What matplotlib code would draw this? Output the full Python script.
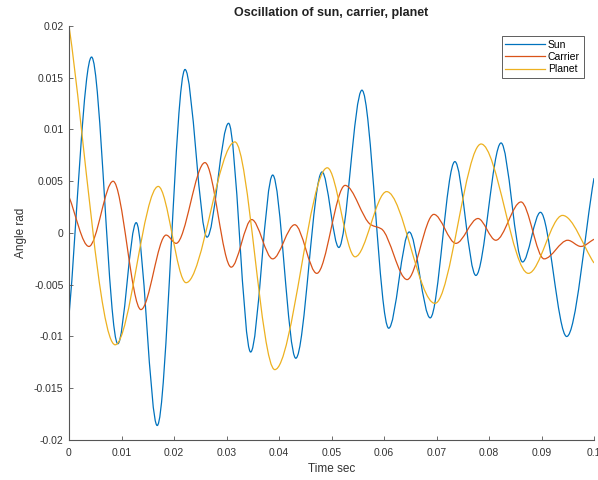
import matplotlib
matplotlib.use("Agg")
import matplotlib.pyplot as plt
from matplotlib.path import Path
from matplotlib.patches import PathPatch
from matplotlib.lines import Line2D
import numpy as np

plt.rcParams['font.family'] = ['Liberation Sans', 'DejaVu Sans']
plt.rcParams['axes.unicode_minus'] = False

# ---- data (local extrema and turning points) ----
sun_t = [0.0, 0.0043, 0.0093, 0.0128, 0.0168, 0.0221, 0.0263, 0.0304, 0.0346,
         0.0388, 0.0432, 0.0482, 0.0514, 0.0558, 0.0609, 0.0648, 0.0688,
         0.0735, 0.0775, 0.0823, 0.0864, 0.0898, 0.0948, 0.1]
sun_y = [-0.0080, 0.0170, -0.0107, 0.0010, -0.0186, 0.0158, -0.0004, 0.0106,
         -0.0115, 0.0056, -0.0121, 0.0059, -0.0014, 0.0138, -0.0092, 0.0001,
         -0.0082, 0.0069, -0.0041, 0.0087, -0.0028, 0.0020, -0.0100, 0.0053]

carrier_t = [0.0, 0.0038, 0.0084, 0.0137, 0.0185, 0.0204, 0.0259, 0.0309,
             0.0348, 0.0388, 0.0430, 0.0472, 0.0526, 0.0575, 0.0595, 0.0644,
             0.0695, 0.0737, 0.0779, 0.0813, 0.0861, 0.0905, 0.0950, 0.0975, 0.1]
carrier_y = [0.0035, -0.0013, 0.0050, -0.0074, -0.0002, -0.0010, 0.0068, -0.0033,
             0.0013, -0.0025, 0.0008, -0.0039, 0.0046, 0.0008, 0.0004, -0.0045,
             0.0018, -0.0010, 0.0014, -0.0007, 0.0030, -0.0025, -0.0007, -0.0013, -0.0006]

planet_t = [0.0, 0.0088, 0.0170, 0.0223, 0.0316, 0.0392, 0.0492, 0.0545,
            0.0605, 0.0697, 0.0785, 0.0875, 0.0940, 0.1]
planet_y = [0.0200, -0.0108, 0.0045, -0.0048, 0.0088, -0.0132, 0.0063, -0.0023,
            0.0040, -0.0068, 0.0086, -0.0039, 0.0017, -0.0029]

series_names = ['Sun', 'Carrier', 'Planet']
series_colors = ['#0072BD', '#D95319', '#EDB120']

x_ticks = [0, 0.01, 0.02, 0.03, 0.04, 0.05, 0.06, 0.07, 0.08, 0.09, 0.1]
x_ticklabels = ['0', '0.01', '0.02', '0.03', '0.04', '0.05', '0.06', '0.07', '0.08', '0.09', '0.1']
y_ticks = [-0.02, -0.015, -0.01, -0.005, 0, 0.005, 0.01, 0.015, 0.02]
y_ticklabels = ['-0.02', '-0.015', '-0.01', '-0.005', '0', '0.005', '0.01', '0.015', '0.02']


def smooth_path(t, y):
    """Smooth curve through the read points (monotone cubic, drawn as Bezier path)."""
    t = np.asarray(t, float)
    y = np.asarray(y, float)
    h = np.diff(t)
    d = np.diff(y) / h
    n = len(t)
    m = np.zeros(n)
    m[0] = d[0]
    m[-1] = d[-1]
    for k in range(1, n - 1):
        if d[k - 1] * d[k] <= 0:
            m[k] = 0.0
        else:
            w1 = 2 * h[k] + h[k - 1]
            w2 = h[k] + 2 * h[k - 1]
            m[k] = (w1 + w2) / (w1 / d[k - 1] + w2 / d[k])
    verts = [(t[0], y[0])]
    codes = [Path.MOVETO]
    for k in range(n - 1):
        hk = h[k]
        verts += [(t[k] + hk / 3, y[k] + m[k] * hk / 3),
                  (t[k + 1] - hk / 3, y[k + 1] - m[k + 1] * hk / 3),
                  (t[k + 1], y[k + 1])]
        codes += [Path.CURVE4] * 3
    return Path(verts, codes)


fig = plt.figure(figsize=(5.98, 4.80), dpi=100)
ax = fig.add_axes([69 / 598, 1 - 440 / 480, (594 - 69) / 598, (440 - 26) / 480])

handles = []
for (tt, yy), name, col in zip([(sun_t, sun_y), (carrier_t, carrier_y), (planet_t, planet_y)],
                                series_names, series_colors):
    patch = PathPatch(smooth_path(tt, yy), fill=False, edgecolor=col, lw=0.9,
                      transform=ax.transData)
    ax.add_patch(patch)
    handles.append(Line2D([], [], color=col, lw=0.9, label=name))

ax.set_xlim(0, 0.1)
ax.set_ylim(-0.02, 0.02)
ax.set_xticks(x_ticks)
ax.set_xticklabels(x_ticklabels)
ax.set_yticks(y_ticks)
ax.set_yticklabels(y_ticklabels)

for s in ['top', 'right']:
    ax.spines[s].set_visible(False)
for s in ['left', 'bottom']:
    ax.spines[s].set_color('#555555')
    ax.spines[s].set_linewidth(0.8)
ax.tick_params(direction='in', length=3, width=0.6, colors='#555555',
               labelcolor='#333333', labelsize=7.5)
ax.tick_params(axis='x', pad=6)
ax.tick_params(axis='y', pad=4)

ax.set_title('Oscillation of sun, carrier, planet', fontsize=9, fontweight='bold',
             color='#222222', pad=7)
ax.set_xlabel('Time sec', fontsize=8.5, color='#333333', labelpad=3)
ax.set_ylabel('Angle rad', fontsize=8.5, color='#333333', labelpad=5)

leg = ax.legend(handles=handles, loc='upper right', fontsize=7.5, frameon=True,
                fancybox=False, edgecolor='#444444', framealpha=1,
                handlelength=3.8, handletextpad=0.3, labelspacing=0.2,
                borderpad=0.35, borderaxespad=1.0)
leg.get_frame().set_linewidth(0.6)

fig.savefig('out.png', dpi=100)
